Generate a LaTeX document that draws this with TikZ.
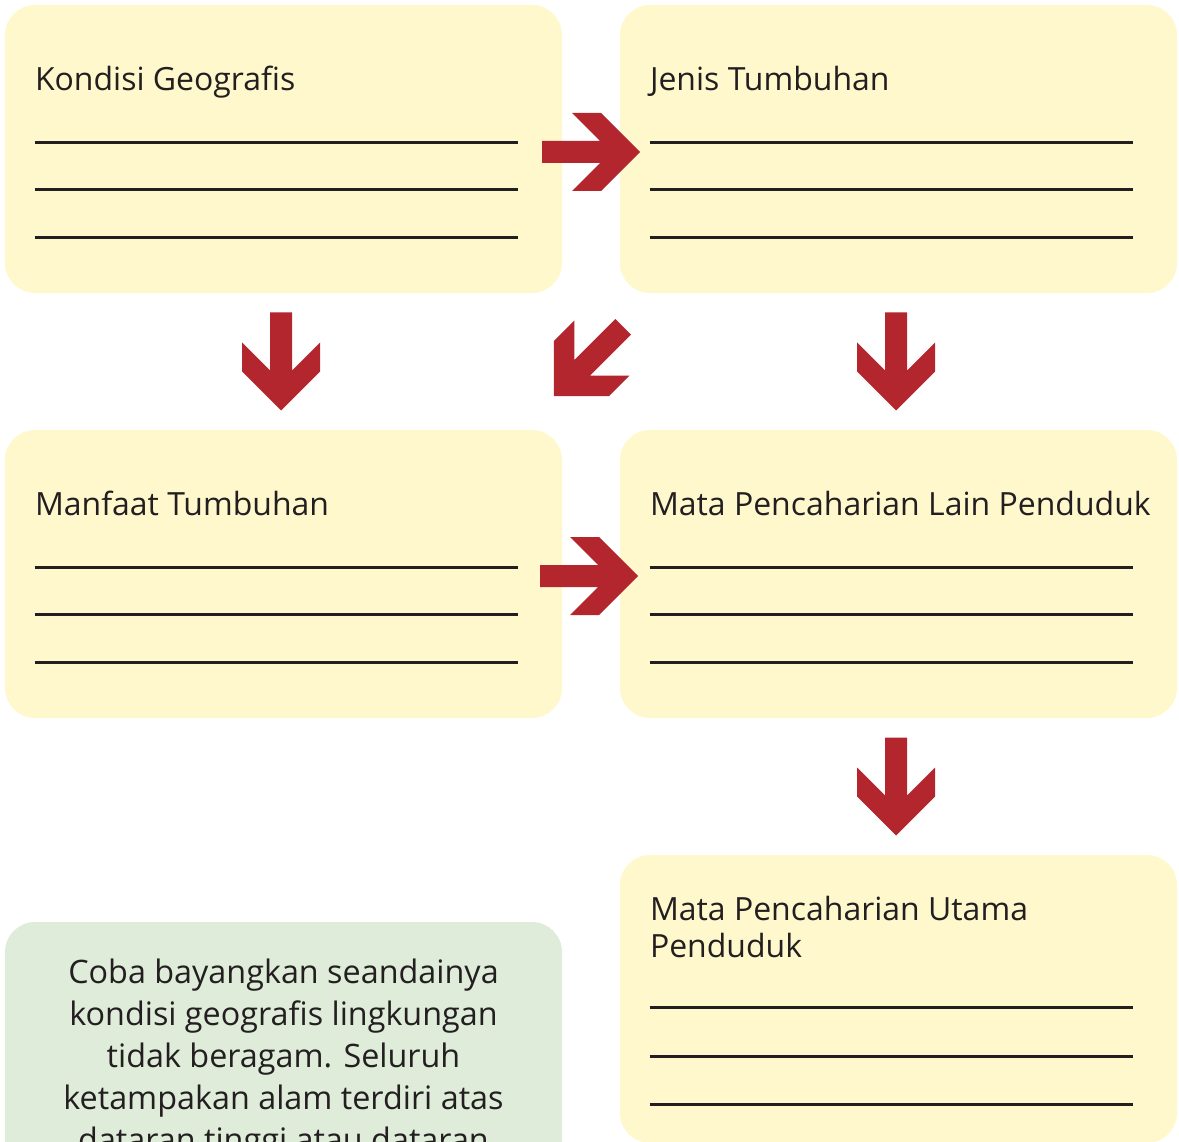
\documentclass[tikz,border=0pt]{standalone}
\usepackage{fontspec}
\setmainfont{Open Sans}
\usepackage{tikz}
\usetikzlibrary{calc}
\definecolor{kuning}{HTML}{FEF8CC}
\definecolor{hijau}{HTML}{DFECDA}
\definecolor{merah}{HTML}{B3262E}
\definecolor{tinta}{HTML}{231F20}

\begin{document}
\begin{tikzpicture}[
  kotak/.style={rounded corners=0.6cm,minimum width=11.14cm,minimum height=5.76cm,inner sep=0pt},
  judul/.style={anchor=base west,inner sep=0pt,text=tinta,align=left,font=\fontsize{18.2}{18.5}\selectfont},
  isian/.style={line width=1.6pt,tinta},
  pics/panah/.style={code={
    \fill[merah] (0.98,0) -- (0.2,0.78) -- (-0.38,0.78) -- (0.18,0.22) -- (-0.98,0.22)
      -- (-0.98,-0.22) -- (0.18,-0.22) -- (-0.38,-0.78) -- (0.2,-0.78) -- cycle;
  }}]
\useasboundingbox (0,0) rectangle (23.58,-22.84);
\clip (0,0) rectangle (23.58,-22.84);
\node[kotak,fill=kuning] (kondisi) at (5.67,-2.98) {};
\node[kotak,fill=kuning] (jenis) at (17.97,-2.98) {};
\node[kotak,fill=kuning] (manfaat) at (5.67,-11.48) {};
\node[kotak,fill=kuning] (lain) at (17.97,-11.48) {};
\node[kotak,fill=kuning] (utama) at (17.97,-19.98) {};
\node[kotak,fill=hijau] (ajakan) at (5.67,-21.32) {};
% judul tiap kotak
\node[judul] (tkondisi) at ([shift={(0.6,-1.72)}]kondisi.north west) {Kondisi Geografis};
\node[judul] (tjenis) at ([shift={(0.6,-1.72)}]jenis.north west) {Jenis Tumbuhan};
\node[judul] (tmanfaat) at ([shift={(0.6,-1.72)}]manfaat.north west) {Manfaat Tumbuhan};
\node[judul] (tlain) at ([shift={(0.6,-1.72)}]lain.north west) {Mata Pencaharian Lain Penduduk};
\node[judul,font=\fontsize{18.2}{21}\selectfont] (tutama) at ([shift={(0.6,-2.06)}]utama.north west) {Mata Pencaharian Utama\\Penduduk};
% garis isian
\foreach \b in {kondisi,jenis,manfaat,lain}
  \foreach \d in {2.76,3.70,4.66}
    \draw[isian] ([shift={(0.6,-\d)}]\b.north west) -- ++(9.66,0);
\foreach \d in {3.06,4.04,5.00}
  \draw[isian] ([shift={(0.6,-\d)}]utama.north west) -- ++(9.66,0);
% panah
\pic at ($(kondisi.east)!0.5!(jenis.west)+(0,-0.06)$) {panah};
\pic[rotate=-90] at ($(kondisi.south)!0.5!(manfaat.north)+(-0.05,0)$) {panah};
\pic[rotate=225] at ($(jenis.south west)!0.5!(manfaat.north east)+(-0.05,0)$) {panah};
\pic[rotate=-90] at ($(jenis.south)!0.5!(lain.north)+(-0.05,0)$) {panah};
\pic at ($(manfaat.east)!0.5!(lain.west)+(-0.04,-0.04)$) {panah};
\pic[rotate=-90] at ($(lain.south)!0.5!(utama.north)+(-0.05,0)$) {panah};
% teks ajakan
\node[anchor=north,inner sep=0pt,align=center,text=tinta,font=\fontsize{18.4}{23.9}\selectfont] (tajakan)
  at ([yshift=-0.74cm]ajakan.north) {Coba bayangkan seandainya\\kondisi geografis lingkungan\\tidak beragam. Seluruh\\ketampakan alam terdiri atas\\dataran tinggi atau dataran};
\end{tikzpicture}
\end{document}
